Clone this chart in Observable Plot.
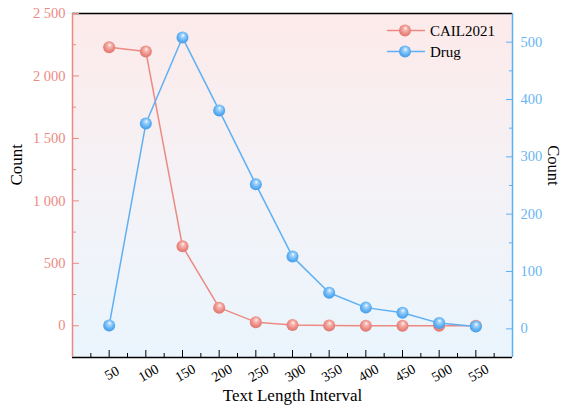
<!DOCTYPE html>
<html><head><meta charset="utf-8">
<script src="https://cdn.jsdelivr.net/npm/d3@7"></script>
<script src="https://cdn.jsdelivr.net/npm/@observablehq/plot@0.6"></script>
<style>body{margin:0;background:#fff} #chart{width:562px;height:410px}
#chart svg, #chart svg text{font-family:"Liberation Serif","Times New Roman",serif !important;}</style>
</head><body><div id="chart"></div>
<script>
const intervals = [50, 100, 150, 200, 250, 300, 350, 400, 450, 500, 550];
const cail2021 = [2230, 2196, 636, 145, 29, 6, 2, 1, 1, 1, 0];
const drug = [6, 358, 508, 381, 252, 126, 63, 37, 28, 10, 4];
const seriesNames = ["CAIL2021", "Drug"];
const leftTicks = [0, 500, 1000, 1500, 2000, 2500];
const leftMinor = [250, 750, 1250, 1750, 2250];
const rightTicks = [0, 100, 200, 300, 400, 500];
const rightMinor = [50, 150, 250, 350, 450];
const xMinor = [25, 75, 125, 175, 225, 275, 325, 375, 425, 475, 525, 575];
const xDomain = [0, 600];
const leftDomain = [-254, 2500];
const rightDomain = [-50, 550];

const red = "#ec8a82", blue = "#5eb0f4";
const redText = "#ec8a84", blueText = "#6ab5f4";
const font = "'Liberation Serif', 'Times New Roman', serif";

const toLeft = v => leftDomain[0] + (v - rightDomain[0]) / (rightDomain[1] - rightDomain[0]) * (leftDomain[1] - leftDomain[0]);
const fromLeft = u => rightDomain[0] + (u - leftDomain[0]) / (leftDomain[1] - leftDomain[0]) * (rightDomain[1] - rightDomain[0]);

const cailData = intervals.map((x, i) => ({x, y: cail2021[i]}));
const drugData = intervals.map((x, i) => ({x, y: toLeft(drug[i])}));

const fmtLeft = d => d >= 1000 ? `${Math.floor(d / 1000)} ${String(d % 1000).padStart(3, "0")}` : `${d}`;

function defs() {
  const d = d3.create("svg:defs");
  const bg = d.append("linearGradient").attr("id", "bg").attr("x1", 0).attr("y1", 0).attr("x2", 0).attr("y2", 1);
  bg.append("stop").attr("offset", "0%").attr("stop-color", "#fdeaea");
  bg.append("stop").attr("offset", "50%").attr("stop-color", "#f4f2f6");
  bg.append("stop").attr("offset", "100%").attr("stop-color", "#eaf5fd");
  const sphere = (id, light, base, dark) => {
    const g = d.append("radialGradient").attr("id", id).attr("cx", "50%").attr("cy", "45%").attr("r", "60%").attr("fx", "55%").attr("fy", "30%");
    g.append("stop").attr("offset", "0%").attr("stop-color", "#ffffff");
    g.append("stop").attr("offset", "22%").attr("stop-color", light);
    g.append("stop").attr("offset", "65%").attr("stop-color", base);
    g.append("stop").attr("offset", "100%").attr("stop-color", dark);
  };
  sphere("gC", "#f7bdb7", red, "#d8726a");
  sphere("gD", "#a9d6fb", blue, "#3f97e0");
  return d.node();
}

const plot = Plot.plot({
  width: 562, height: 410,
  marginLeft: 72, marginRight: 50, marginTop: 13, marginBottom: 53,
  style: `font-family: ${font}; background: transparent;`,
  x: {domain: xDomain, axis: null},
  y: {domain: leftDomain, axis: null},
  marks: [
    defs,
    Plot.frame({fill: "url(#bg)", stroke: "none"}),
    Plot.ruleY([leftDomain[1]], {stroke: "#000", strokeWidth: 1.3}),
    Plot.ruleY([leftDomain[0]], {stroke: "#000", strokeWidth: 1.3}),
    Plot.ruleX([xDomain[0]], {stroke: red, strokeWidth: 1.5}),
    Plot.ruleX([xDomain[1]], {stroke: blue, strokeWidth: 1.5}),
    // x ticks
    Plot.axisX(intervals, {tickSize: -7, fill: "none", stroke: "#000", label: null}),
    Plot.axisX(xMinor, {tickSize: -4, fill: "none", stroke: "#000", label: null}),
    Plot.axisX(intervals, {tickSize: 0, tickRotate: -30, tickPadding: 11, textAnchor: "middle", lineAnchor: "top", fontSize: 14, fill: "#000", label: null}),
    // left axis
    Plot.axisY(leftTicks, {anchor: "left", tickSize: -7, fill: "none", stroke: red, label: null}),
    Plot.axisY(leftMinor, {anchor: "left", tickSize: -4, fill: "none", stroke: red, label: null}),
    Plot.axisY(leftTicks, {anchor: "left", tickSize: 0, tickPadding: 7, fontSize: 14.5, fill: redText, tickFormat: fmtLeft, label: null}),
    // right axis
    Plot.axisY(rightTicks.map(toLeft), {anchor: "right", tickSize: -7, fill: "none", stroke: blue, label: null}),
    Plot.axisY(rightMinor.map(toLeft), {anchor: "right", tickSize: -4, fill: "none", stroke: blue, label: null}),
    Plot.axisY(rightTicks.map(toLeft), {anchor: "right", tickSize: 0, tickPadding: 8, fontSize: 14.5, fill: blueText, tickFormat: d => `${Math.round(fromLeft(d))}`, label: null}),
    // titles
    Plot.text(["Count"], {frameAnchor: "left", dx: -56, rotate: -90, fontSize: 17, fill: "#000"}),
    Plot.text(["Count"], {frameAnchor: "right", dx: 41, rotate: 90, fontSize: 16.5, fill: "#000"}),
    Plot.text(["Text Length Interval"], {frameAnchor: "bottom", dy: 43, fontSize: 17, fill: "#000"}),
    // series
    Plot.line(cailData, {x: "x", y: "y", stroke: red, strokeWidth: 1.5}),
    Plot.line(drugData, {x: "x", y: "y", stroke: blue, strokeWidth: 1.5}),
    Plot.dot(cailData, {x: "x", y: "y", r: 6, fill: "url(#gC)", stroke: "none"}),
    Plot.dot(drugData, {x: "x", y: "y", r: 6, fill: "url(#gD)", stroke: "none"})
  ]
});

// legend
const svg = d3.select(plot);
const lg = svg.append("g").attr("font-family", font).attr("font-size", 15).attr("text-anchor", "start");
[[seriesNames[0], red, "url(#gC)", 30.5], [seriesNames[1], blue, "url(#gD)", 51.5]].forEach(([name, c, f, y]) => {
  lg.append("line").attr("x1", 387).attr("x2", 425).attr("y1", y).attr("y2", y).attr("stroke", c).attr("stroke-width", 1.5);
  lg.append("circle").attr("cx", 405).attr("cy", y).attr("r", 6).attr("fill", f);
  lg.append("text").attr("x", 430).attr("y", y).attr("dy", "0.35em").attr("text-anchor", "start").attr("fill", "#000").text(name);
});

document.getElementById("chart").appendChild(plot);
</script>
</body></html>
